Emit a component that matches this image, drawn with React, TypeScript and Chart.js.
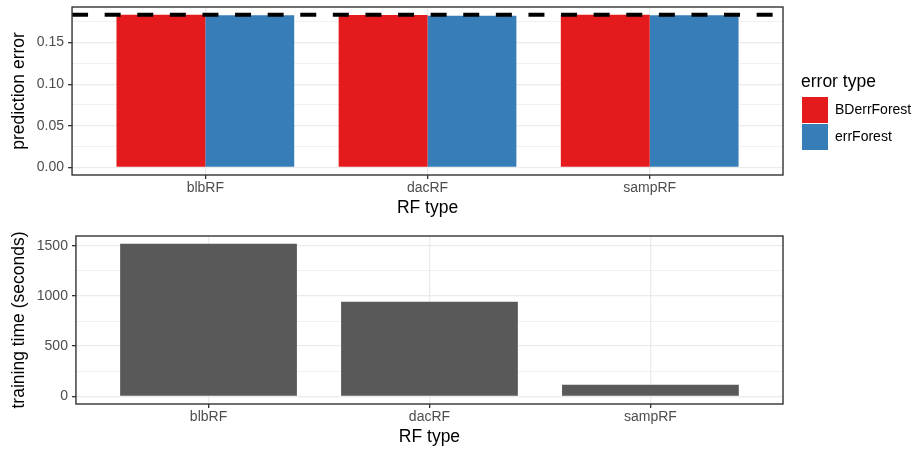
import React, { useEffect, useRef } from "react";
import { Chart, registerables } from "chart.js";

Chart.register(...registerables);

// ---- data ----
const rfTypes = ["blbRF", "dacRF", "sampRF"];
const bdErrForest = [0.1835, 0.1832, 0.1836];
const errForest = [0.183, 0.1822, 0.183];
const referenceError = 0.1836;
const trainingTime = [1520, 942, 116];
const errorTicks = [0, 0.05, 0.1, 0.15];
const timeTicks = [0, 500, 1000, 1500];

// ---- styles ----
const RED = "#E41A1C";
const BLUE = "#377EB8";
const GREY = "#595959";
const GRID = "#EBEBEB";
const AXIS = "#333333";
const TICKTEXT = "#4D4D4D";
const FONT = "'Liberation Sans', Arial, Helvetica, sans-serif";

Chart.defaults.font.family = FONT;

const X_EXPAND = 0.6;
const xMin = -X_EXPAND;
const xMax = rfTypes.length - 1 + X_EXPAND;

function yAxis(title: string, majors: number[], decimals: number, dataMax: number) {
  const step = majors[1] - majors[0];
  const max = dataMax * 1.05;
  const min = -dataMax * 0.05;
  return {
    type: "linear",
    min,
    max,
    bounds: "data",
    offset: false,
    afterBuildTicks: (scale: any) => {
      const t: any[] = [];
      majors.forEach((v) => {
        t.push({ value: v });
        const m = v + step / 2;
        if (m <= max) t.push({ value: m, minor: true });
      });
      t.sort((a, b) => a.value - b.value);
      scale.ticks = t;
    },
    afterFit: (scale: any) => {
      scale.paddingTop = 0;
      scale.paddingBottom = 0;
    },
    ticks: {
      autoSkip: false,
      includeBounds: false,
      padding: 4,
      color: TICKTEXT,
      font: { size: 14 },
      callback: (v: any, i: number, ticks: any[]) =>
        ticks[i] && ticks[i].minor ? "" : Number(v).toFixed(decimals),
    },
    grid: {
      offset: false,
      color: GRID,
      lineWidth: (c: any) => (c.tick && c.tick.minor ? 0.7 : 1.3),
      tickLength: 4,
      tickColor: (c: any) => (c.tick && c.tick.minor ? "rgba(0,0,0,0)" : AXIS),
      tickWidth: 1.3,
    },
    border: { display: false },
    title: {
      display: true,
      text: title,
      color: "#000000",
      font: { size: 17.5 },
      padding: { top: 4.5, bottom: 3.3 },
    },
  };
}

function xAxis() {
  return {
    type: "linear",
    min: xMin,
    max: xMax,
    bounds: "data",
    offset: false,
    afterBuildTicks: (scale: any) => {
      scale.ticks = rfTypes.map((_, i) => ({ value: i }));
    },
    afterFit: (scale: any) => {
      scale.paddingLeft = 0;
      scale.paddingRight = 0;
    },
    ticks: {
      autoSkip: false,
      includeBounds: false,
      maxRotation: 0,
      padding: 1,
      color: TICKTEXT,
      font: { size: 14 },
      callback: (v: any) => rfTypes[Math.round(Number(v))] ?? "",
    },
    grid: {
      offset: false,
      color: GRID,
      lineWidth: 1.3,
      tickLength: 4,
      tickColor: AXIS,
      tickWidth: 1.3,
    },
    border: { display: false },
    title: {
      display: true,
      text: "RF type",
      color: "#000000",
      font: { size: 17.5 },
      padding: 0,
    },
  };
}

const panelBorder = {
  id: "panelBorder",
  afterDraw(chart: any) {
    const { ctx, chartArea: a } = chart;
    ctx.save();
    ctx.strokeStyle = AXIS;
    ctx.lineWidth = 1.4;
    ctx.strokeRect(a.left, a.top, a.right - a.left, a.bottom - a.top);
    ctx.restore();
  },
};

const legendShift = {
  id: "legendShift",
  afterLayout(chart: any) {
    const l = chart.legend;
    if (l) {
      l.left += 18;
      l.right += 18;
    }
  },
};

export default function App() {
  const topRef = useRef<HTMLCanvasElement>(null);
  const botRef = useRef<HTMLCanvasElement>(null);

  useEffect(() => {
    const errMax = Math.max(...bdErrForest, ...errForest, referenceError);
    const timeMax = Math.max(...trainingTime);

    const top = new Chart(topRef.current as HTMLCanvasElement, {
      type: "bar",
      data: {
        datasets: [
          {
            type: "bar",
            label: "BDerrForest",
            data: bdErrForest.map((v, i) => ({ x: i, y: v })),
            backgroundColor: RED,
            borderWidth: 0,
            order: 1,
          },
          {
            type: "bar",
            label: "errForest",
            data: errForest.map((v, i) => ({ x: i, y: v })),
            backgroundColor: BLUE,
            borderWidth: 0,
            order: 1,
          },
          {
            type: "line",
            label: "reference",
            data: [
              { x: xMin, y: referenceError },
              { x: xMax, y: referenceError },
            ],
            borderColor: "#000000",
            borderWidth: 4,
            borderDash: [16, 16.6],
            borderCapStyle: "butt",
            pointRadius: 0,
            fill: false,
            order: 0,
          },
        ] as any,
      },
      options: {
        animation: false,
        responsive: false,
        devicePixelRatio: 1,
        events: [],
        layout: { padding: { top: 7, left: 4, right: 9, bottom: 6.2 } },
        datasets: { bar: { categoryPercentage: 0.8, barPercentage: 1.0 } } as any,
        scales: {
          x: xAxis() as any,
          y: yAxis("prediction error", errorTicks, 2, errMax) as any,
        },
        plugins: {
          tooltip: { enabled: false },
          legend: {
            display: true,
            position: "right",
            align: "center",
            fullSize: false,
            maxWidth: 120,
            labels: {
              boxWidth: 26,
              boxHeight: 26,
              padding: 1,
              color: "#000000",
              font: { size: 14 },
              filter: (item: any, data: any) =>
                data.datasets[item.datasetIndex].type !== "line",
            },
            title: {
              display: true,
              text: "error type",
              color: "#000000",
              position: "start",
              font: { size: 17.5 },
              padding: { top: 42.25, bottom: 1.75 },
            },
          } as any,
        },
      },
      plugins: [panelBorder, legendShift],
    });

    const bottom = new Chart(botRef.current as HTMLCanvasElement, {
      type: "bar",
      data: {
        datasets: [
          {
            label: "training time",
            data: trainingTime.map((v, i) => ({ x: i, y: v })),
            backgroundColor: GREY,
            borderWidth: 0,
          },
        ] as any,
      },
      options: {
        animation: false,
        responsive: false,
        devicePixelRatio: 1,
        events: [],
        layout: { padding: { top: 11, left: 4, right: 129, bottom: 2.2 } },
        datasets: { bar: { categoryPercentage: 0.8, barPercentage: 1.0 } } as any,
        scales: {
          x: xAxis() as any,
          y: yAxis("training time (seconds)", timeTicks, 0, timeMax) as any,
        },
        plugins: {
          tooltip: { enabled: false },
          legend: { display: false },
        },
      },
      plugins: [panelBorder],
    });

    return () => {
      top.destroy();
      bottom.destroy();
    };
  }, []);

  return (
    <div
      style={{
        position: "absolute",
        left: 0,
        top: 0,
        width: 912,
        height: 450,
        background: "#ffffff",
      }}
    >
      <canvas
        ref={topRef}
        width={912}
        height={225}
        style={{ display: "block", width: 912, height: 225 }}
      />
      <canvas
        ref={botRef}
        width={912}
        height={225}
        style={{ display: "block", width: 912, height: 225 }}
      />
    </div>
  );
}
